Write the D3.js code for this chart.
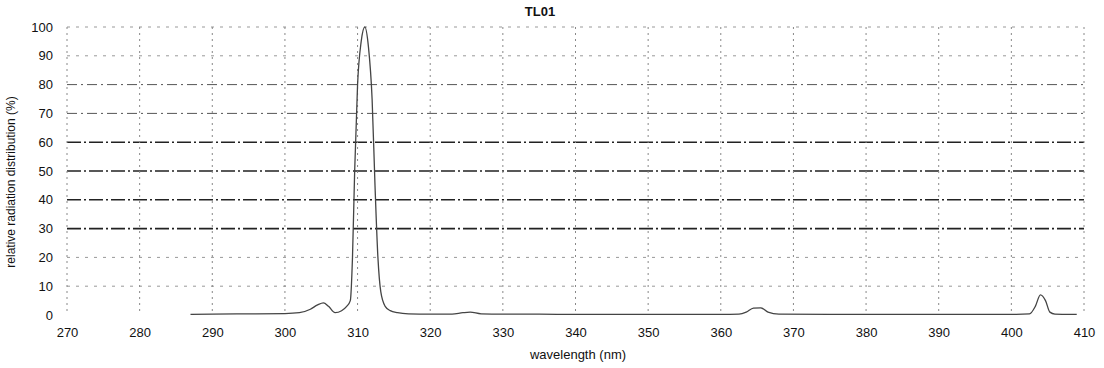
<!DOCTYPE html>
<html>
<head>
<meta charset="utf-8">
<script src="https://cdn.jsdelivr.net/npm/d3@7"></script>
<style>
  body { margin: 0; background: #fff; }
  text { font-family: "Liberation Sans", Arial, sans-serif; fill: #111; }
</style>
</head>
<body>
<svg id="chart"></svg>
<script>
// spectrum of the TL01 lamp
var wavelengths = [287, 290, 295, 300, 302, 303.5, 304.5, 305.3, 306, 306.9, 307.8, 308.5, 309, 309.3, 309.6, 310, 310.5, 311, 311.5, 312, 312.4, 312.8, 313.2, 313.8, 314.5, 315.5, 317, 320, 323, 324.5, 325.5, 327, 330, 335, 340, 345, 350, 355, 360, 362.5, 363.5, 364.5, 365.5, 366.5, 368, 375, 385, 395, 400, 402.5, 403.3, 404, 404.7, 405.3, 406, 408, 409];
var intensity = [0.2, 0.3, 0.4, 0.5, 0.8, 2, 3.5, 4.2, 3, 0.8, 1.5, 3, 5, 20, 50, 80, 95, 100, 93, 75, 45, 20, 8, 3, 1.5, 0.8, 0.4, 0.3, 0.3, 0.8, 1, 0.4, 0.3, 0.3, 0.2, 0.2, 0.2, 0.2, 0.2, 0.3, 1, 2.4, 2.5, 1, 0.3, 0.2, 0.2, 0.2, 0.2, 0.4, 3, 7, 5, 1, 0.3, 0.2, 0.2];
var xTicks = [270, 280, 290, 300, 310, 320, 330, 340, 350, 360, 370, 380, 390, 400, 410];
var yTicks = [0, 10, 20, 30, 40, 50, 60, 70, 80, 90, 100];

var width = 1104, height = 368;
var margin = { top: 27, right: 20, bottom: 53, left: 67 };

var svg = d3.select("#chart").attr("width", width).attr("height", height);

var x = d3.scaleLinear().domain([270, 410]).range([margin.left, 1084]);
var y = d3.scaleLinear().domain([0, 100]).range([height - margin.bottom, margin.top]);

// grid, the middle rows came out darker in the print
var dark = function (d) { return d >= 30 && d <= 60; };
var mid = function (d) { return d === 70 || d === 80; };
var g = svg.append("g");
g.selectAll(".hgrid").data(yTicks.filter(function (d) { return d > 0; }))
  .enter().append("line")
  .attr("x1", x(270)).attr("x2", x(410))
  .attr("y1", function (d) { return y(d); }).attr("y2", function (d) { return y(d); })
  .attr("stroke", function (d) { return dark(d) ? "#222" : (mid(d) ? "#555" : "#999"); })
  .attr("stroke-width", function (d) { return dark(d) ? 1.6 : 1; })
  .attr("stroke-dasharray", function (d) { return dark(d) ? "14,3,2,3" : (mid(d) ? "10,4,2,4" : "3,6"); });

g.selectAll(".vgrid").data(xTicks)
  .enter().append("line")
  .attr("x1", function (d) { return x(d); }).attr("x2", function (d) { return x(d); })
  .attr("y1", y(100)).attr("y2", y(0))
  .attr("stroke", "#888")
  .attr("stroke-width", 1)
  .attr("stroke-dasharray", "2,4");

// axes, no domain line
var xAxis = svg.append("g")
  .attr("transform", "translate(0," + (y(0) + 7) + ")")
  .call(d3.axisBottom(x).tickValues(xTicks).tickSize(0).tickPadding(6));
xAxis.select(".domain").remove();
xAxis.selectAll("text").style("font-size", "13px").style("font-family", "Liberation Sans, Arial, sans-serif");

var yAxis = svg.append("g")
  .attr("transform", "translate(" + (margin.left - 14) + ",0)")
  .call(d3.axisLeft(y).tickValues(yTicks).tickSize(0).tickPadding(0));
yAxis.select(".domain").remove();
yAxis.selectAll("text").style("font-size", "13px").style("font-family", "Liberation Sans, Arial, sans-serif");

// spectrum line
var pts = wavelengths.map(function (w, i) { return [w, intensity[i]]; });
var line = d3.line()
  .x(function (d) { return x(d[0]); })
  .y(function (d) { return y(d[1]); })
  .curve(d3.curveMonotoneX);
svg.append("path")
  .datum(pts)
  .attr("d", line)
  .attr("fill", "none")
  .attr("stroke", "#444")
  .attr("stroke-width", 1.3);

// titles
svg.append("text")
  .attr("x", 540).attr("y", 16)
  .attr("text-anchor", "middle")
  .style("font-size", "13px").style("font-weight", "bold")
  .text("TL01");

svg.append("text")
  .attr("x", 578).attr("y", 359)
  .attr("text-anchor", "middle")
  .style("font-size", "13px")
  .text("wavelength (nm)");

svg.append("text")
  .attr("transform", "translate(15," + 182 + ") rotate(-90)")
  .attr("text-anchor", "middle")
  .style("font-size", "12px")
  .text("relative radiation distribution (%)");
</script>
</body>
</html>
